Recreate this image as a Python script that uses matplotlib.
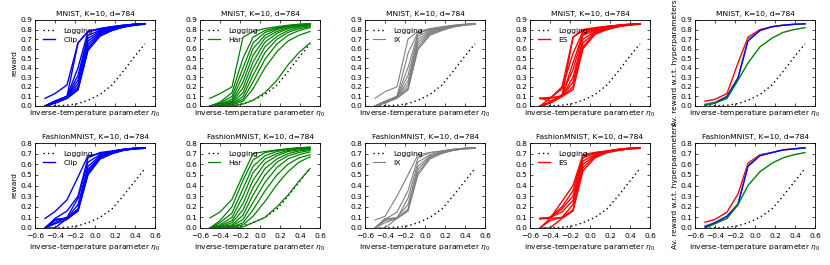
import matplotlib
matplotlib.use("Agg")
import matplotlib.pyplot as plt

# inverse-temperature values on the x axis
eta0 = [-0.5, -0.4, -0.28, -0.17, -0.07, 0.05, 0.17, 0.28, 0.39, 0.5]

# logging policy reward
mnist_logging = [0.0, 0.003, 0.008, 0.025, 0.06, 0.12, 0.22, 0.36, 0.51, 0.65]
fashion_logging = [0.0, 0.002, 0.007, 0.02, 0.05, 0.10, 0.18, 0.30, 0.43, 0.56]

# MNIST, one row per hyperparameter value
mnist_clip = [
    [0.08, 0.13, 0.22, 0.66, 0.78, 0.81, 0.83, 0.845, 0.855, 0.86],
    [0.0, 0.05, 0.10, 0.66, 0.78, 0.81, 0.83, 0.845, 0.855, 0.86],
    [0.0, 0.05, 0.10, 0.40, 0.78, 0.80, 0.82, 0.84, 0.855, 0.86],
    [0.0, 0.05, 0.10, 0.32, 0.74, 0.79, 0.82, 0.84, 0.855, 0.86],
    [0.0, 0.05, 0.10, 0.27, 0.71, 0.78, 0.815, 0.84, 0.85, 0.86],
    [0.0, 0.04, 0.10, 0.23, 0.68, 0.77, 0.81, 0.835, 0.85, 0.86],
    [0.0, 0.04, 0.09, 0.20, 0.65, 0.76, 0.80, 0.83, 0.85, 0.86],
    [0.0, 0.04, 0.09, 0.18, 0.62, 0.75, 0.80, 0.83, 0.845, 0.86],
    [0.0, 0.03, 0.08, 0.17, 0.60, 0.74, 0.79, 0.825, 0.845, 0.86],
    [0.0, 0.03, 0.08, 0.17, 0.58, 0.73, 0.79, 0.825, 0.845, 0.855],
]
mnist_har = [
    [0.08, 0.13, 0.20, 0.72, 0.78, 0.81, 0.83, 0.845, 0.855, 0.86],
    [0.0, 0.04, 0.14, 0.50, 0.72, 0.79, 0.82, 0.84, 0.855, 0.86],
    [0.0, 0.03, 0.10, 0.40, 0.66, 0.77, 0.81, 0.835, 0.85, 0.86],
    [0.0, 0.02, 0.07, 0.32, 0.60, 0.74, 0.80, 0.83, 0.845, 0.855],
    [0.0, 0.02, 0.05, 0.25, 0.53, 0.71, 0.78, 0.82, 0.84, 0.85],
    [0.0, 0.01, 0.04, 0.19, 0.46, 0.67, 0.76, 0.81, 0.835, 0.845],
    [0.0, 0.01, 0.03, 0.14, 0.39, 0.62, 0.73, 0.79, 0.825, 0.84],
    [0.0, 0.01, 0.02, 0.10, 0.32, 0.56, 0.70, 0.77, 0.81, 0.83],
    [0.0, 0.0, 0.02, 0.07, 0.25, 0.49, 0.65, 0.74, 0.79, 0.82],
    [0.0, 0.0, 0.01, 0.05, 0.18, 0.40, 0.57, 0.68, 0.74, 0.78],
    [0.0, 0.0, 0.0, 0.02, 0.06, 0.14, 0.27, 0.43, 0.56, 0.66],
]
mnist_ix = [
    [0.08, 0.15, 0.20, 0.70, 0.78, 0.81, 0.83, 0.845, 0.855, 0.86],
    [0.0, 0.04, 0.10, 0.55, 0.77, 0.80, 0.82, 0.84, 0.85, 0.86],
    [0.0, 0.05, 0.10, 0.40, 0.76, 0.80, 0.82, 0.84, 0.855, 0.86],
    [0.0, 0.05, 0.10, 0.32, 0.73, 0.79, 0.82, 0.84, 0.85, 0.86],
    [0.0, 0.04, 0.10, 0.26, 0.70, 0.78, 0.815, 0.84, 0.85, 0.86],
    [0.0, 0.04, 0.10, 0.22, 0.67, 0.77, 0.81, 0.835, 0.85, 0.86],
    [0.0, 0.04, 0.09, 0.19, 0.64, 0.76, 0.80, 0.83, 0.85, 0.86],
    [0.0, 0.03, 0.09, 0.17, 0.61, 0.75, 0.80, 0.83, 0.845, 0.855],
    [0.0, 0.03, 0.08, 0.17, 0.59, 0.74, 0.79, 0.825, 0.845, 0.855],
]
mnist_es = [
    [0.08, 0.08, 0.20, 0.72, 0.79, 0.81, 0.83, 0.845, 0.855, 0.86],
    [0.08, 0.08, 0.10, 0.72, 0.80, 0.82, 0.835, 0.845, 0.855, 0.86],
    [0.0, 0.08, 0.18, 0.55, 0.78, 0.81, 0.83, 0.845, 0.855, 0.86],
    [0.08, 0.05, 0.10, 0.45, 0.76, 0.80, 0.82, 0.84, 0.85, 0.86],
    [0.0, 0.04, 0.12, 0.38, 0.74, 0.79, 0.82, 0.84, 0.85, 0.86],
    [0.0, 0.04, 0.10, 0.30, 0.70, 0.78, 0.815, 0.84, 0.85, 0.86],
    [0.0, 0.03, 0.10, 0.25, 0.66, 0.77, 0.81, 0.835, 0.85, 0.86],
    [0.0, 0.03, 0.10, 0.20, 0.62, 0.76, 0.80, 0.83, 0.85, 0.86],
    [0.08, 0.09, 0.10, 0.17, 0.60, 0.75, 0.80, 0.83, 0.845, 0.855],
]
mnist_avg_es = [0.05, 0.07, 0.13, 0.45, 0.72, 0.80, 0.83, 0.845, 0.855, 0.86]
mnist_avg_ix = [0.02, 0.04, 0.10, 0.30, 0.70, 0.79, 0.83, 0.845, 0.855, 0.86]
mnist_avg_clip = [0.01, 0.03, 0.10, 0.29, 0.68, 0.79, 0.83, 0.845, 0.855, 0.86]
mnist_avg_har = [0.01, 0.03, 0.08, 0.27, 0.45, 0.62, 0.71, 0.77, 0.80, 0.82]

# FashionMNIST
fashion_clip = [
    [0.09, 0.155, 0.265, 0.48, 0.68, 0.70, 0.72, 0.74, 0.75, 0.755],
    [0.0, 0.09, 0.16, 0.30, 0.66, 0.71, 0.725, 0.74, 0.75, 0.755],
    [0.0, 0.07, 0.10, 0.28, 0.62, 0.69, 0.72, 0.74, 0.75, 0.755],
    [0.0, 0.08, 0.09, 0.22, 0.58, 0.68, 0.715, 0.735, 0.75, 0.755],
    [0.0, 0.08, 0.09, 0.18, 0.55, 0.67, 0.71, 0.735, 0.745, 0.755],
    [0.0, 0.0, 0.09, 0.17, 0.53, 0.66, 0.71, 0.73, 0.745, 0.75],
    [0.0, 0.05, 0.10, 0.16, 0.51, 0.65, 0.70, 0.73, 0.745, 0.75],
    [0.0, 0.04, 0.08, 0.16, 0.50, 0.65, 0.70, 0.73, 0.745, 0.75],
]
fashion_har = [
    [0.095, 0.15, 0.27, 0.50, 0.70, 0.72, 0.735, 0.745, 0.755, 0.76],
    [0.0, 0.07, 0.20, 0.45, 0.64, 0.71, 0.73, 0.745, 0.755, 0.76],
    [0.0, 0.05, 0.14, 0.37, 0.58, 0.68, 0.72, 0.74, 0.75, 0.755],
    [0.0, 0.03, 0.10, 0.30, 0.52, 0.65, 0.70, 0.73, 0.745, 0.75],
    [0.0, 0.02, 0.07, 0.23, 0.45, 0.61, 0.68, 0.72, 0.735, 0.745],
    [0.0, 0.01, 0.05, 0.17, 0.38, 0.56, 0.65, 0.70, 0.725, 0.74],
    [0.0, 0.01, 0.03, 0.12, 0.31, 0.50, 0.62, 0.68, 0.71, 0.73],
    [0.0, 0.0, 0.02, 0.08, 0.24, 0.43, 0.57, 0.65, 0.69, 0.715],
    [0.0, 0.0, 0.01, 0.05, 0.17, 0.35, 0.50, 0.60, 0.66, 0.69],
    [0.0, 0.0, 0.01, 0.03, 0.11, 0.25, 0.41, 0.53, 0.62, 0.67],
    [0.0, 0.0, 0.0, 0.01, 0.05, 0.10, 0.20, 0.31, 0.44, 0.56],
]
fashion_ix = [
    [0.075, 0.11, 0.30, 0.50, 0.69, 0.71, 0.725, 0.74, 0.75, 0.755],
    [0.0, 0.08, 0.15, 0.35, 0.66, 0.71, 0.725, 0.74, 0.75, 0.755],
    [0.0, 0.09, 0.09, 0.28, 0.62, 0.69, 0.72, 0.74, 0.75, 0.755],
    [0.0, 0.08, 0.10, 0.22, 0.58, 0.68, 0.715, 0.735, 0.75, 0.755],
    [0.0, 0.0, 0.09, 0.18, 0.55, 0.67, 0.71, 0.735, 0.745, 0.75],
    [0.0, 0.07, 0.09, 0.16, 0.52, 0.66, 0.71, 0.73, 0.745, 0.75],
    [0.0, 0.05, 0.09, 0.16, 0.50, 0.65, 0.70, 0.73, 0.745, 0.75],
]
fashion_es = [
    [0.09, 0.09, 0.25, 0.40, 0.69, 0.71, 0.725, 0.74, 0.75, 0.755],
    [0.09, 0.10, 0.20, 0.35, 0.68, 0.71, 0.725, 0.74, 0.75, 0.755],
    [0.0, 0.09, 0.18, 0.30, 0.66, 0.70, 0.72, 0.74, 0.75, 0.755],
    [0.085, 0.10, 0.15, 0.26, 0.63, 0.69, 0.72, 0.735, 0.75, 0.755],
    [0.0, 0.07, 0.10, 0.22, 0.60, 0.68, 0.715, 0.735, 0.745, 0.755],
    [0.09, 0.09, 0.10, 0.17, 0.57, 0.67, 0.71, 0.73, 0.745, 0.75],
    [0.0, 0.0, 0.09, 0.16, 0.54, 0.66, 0.71, 0.73, 0.745, 0.75],
]
fashion_avg_es = [0.055, 0.08, 0.15, 0.32, 0.61, 0.69, 0.71, 0.735, 0.745, 0.755]
fashion_avg_ix = [0.02, 0.05, 0.11, 0.23, 0.59, 0.685, 0.71, 0.735, 0.745, 0.755]
fashion_avg_clip = [0.01, 0.05, 0.11, 0.22, 0.58, 0.68, 0.71, 0.735, 0.745, 0.755]
fashion_avg_har = [0.0, 0.04, 0.09, 0.22, 0.40, 0.53, 0.61, 0.66, 0.69, 0.71]

methods = ["Clip", "Har", "IX", "ES"]
colors = ["#0000ff", "#008000", "#808080", "#ff0000"]
widths = [1.0, 0.9, 0.8, 1.0]

fs = 5.4
W, H = 830, 265
fig = plt.figure(figsize=(W / 100, H / 100), dpi=100)


def make_ax(col, row):
    left = 35 + 165 * col
    top, bottom = (20, 106) if row == 0 else (143, 228)
    ax = fig.add_axes([left / W, 1 - bottom / H, 120 / W, (bottom - top) / H])
    ax.tick_params(direction="in", top=True, right=True, labelsize=fs,
                   length=2.5, width=0.5, pad=2)
    ax.tick_params(axis="x", pad=3.5)
    for s in ax.spines.values():
        s.set_linewidth(0.6)
    ax.set_xlim(-0.6, 0.6)
    ax.set_xticks([-0.6, -0.4, -0.2, 0.0, 0.2, 0.4, 0.6])
    return ax


def plot_logging(ax, values, label=None):
    ax.plot(eta0, values, color="black", lw=1.0, linestyle=(0, (1, 2.2)), label=label)


rows = [
    ("MNIST, K=10, d=784", mnist_logging, [mnist_clip, mnist_har, mnist_ix, mnist_es],
     [mnist_avg_clip, mnist_avg_har, mnist_avg_ix, mnist_avg_es], 0.9),
    ("FashionMNIST, K=10, d=784", fashion_logging,
     [fashion_clip, fashion_har, fashion_ix, fashion_es],
     [fashion_avg_clip, fashion_avg_har, fashion_avg_ix, fashion_avg_es], 0.8),
]

xlabel = r"inverse-temperature parameter $\eta_0$"

for r, (title, logging, sweeps, avgs, ymax) in enumerate(rows):
    yt = [round(0.1 * i, 1) for i in range(int(round(ymax * 10)) + 1)]
    for c in range(4):
        ax = make_ax(c, r)
        plot_logging(ax, logging, "Logging")
        for k, curve in enumerate(sweeps[c]):
            ax.plot(eta0, curve, color=colors[c], lw=widths[c],
                    label=methods[c] if k == 0 else None)
        ax.set_ylim(0, ymax)
        ax.set_yticks(yt)
        ax.set_title(title, fontsize=fs, pad=3)
        ax.set_xlabel(xlabel, fontsize=fs, labelpad=2 if r == 0 else 3)
        if r == 0:
            ax.tick_params(labelbottom=False)
        if c == 0:
            ax.set_ylabel("reward", fontsize=fs, labelpad=2)
        ax.legend(loc="upper left", frameon=False, fontsize=fs, handlelength=1.6,
                  borderaxespad=0.5, borderpad=0.5, labelspacing=0.35,
                  handletextpad=1.2)

    # averaged over hyperparameters
    ax = make_ax(4, r)
    plot_logging(ax, logging)
    ax.plot(eta0, avgs[3], color=colors[3], lw=1.0)
    ax.plot(eta0, avgs[2], color=colors[2], lw=1.0)
    ax.plot(eta0, avgs[0], color=colors[0], lw=1.0)
    ax.plot(eta0, avgs[1], color=colors[1], lw=1.0)
    ax.set_ylim(0, ymax)
    ax.set_yticks(yt)
    ax.set_title(title, fontsize=fs, pad=3)
    ax.set_xlabel(xlabel, fontsize=fs, labelpad=2 if r == 0 else 3)
    ax.set_ylabel("Av. reward w.r.t. hyperparameters", fontsize=fs, labelpad=2)
    if r == 0:
        ax.tick_params(labelbottom=False)

fig.savefig("out.png", dpi=100)
